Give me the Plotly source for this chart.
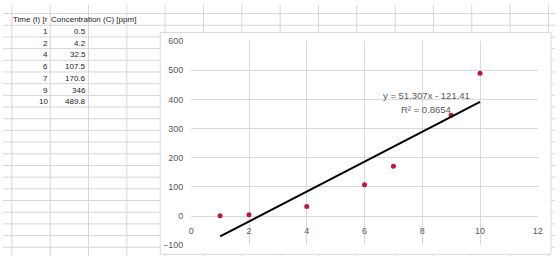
import numpy as np
import plotly.graph_objects as go

# ---- data ----
time_t = [1, 2, 4, 6, 7, 9, 10]
conc_ppm = [0.5, 4.2, 32.5, 107.5, 170.6, 346, 489.8]
header_a = "Time (t) [r"
header_b = "Concentration (C) [ppm]"
eq_text = "y = 51.307x - 121.41"
r2_text = "R² = 0.8654"
x_ticks = [0, 2, 4, 6, 8, 10, 12]
y_ticks = [-100, 0, 100, 200, 300, 400, 500, 600]

W, H = 560, 267
def px(x):
    return x / W
def py(y):
    return 1 - y / H

GRID = "#d6d6d6"
TXT = "#595959"

shapes = []
# spreadsheet grid: row lines
for k in range(21):
    yy = 8.9 + 12.14 * k
    shapes.append(dict(type="line", xref="paper", yref="paper", layer="below",
                       x0=0, x1=1, y0=py(yy), y1=py(yy),
                       line=dict(color=GRID, width=1)))
# spreadsheet grid: column lines
for k in range(15):
    xx = 9 + 38.88 * k
    shapes.append(dict(type="line", xref="paper", yref="paper", layer="below",
                       x0=px(xx), x1=px(xx), y0=py(0), y1=py(261),
                       line=dict(color=GRID, width=1)))
# chart area box
shapes.append(dict(type="rect", xref="paper", yref="paper", layer="below",
                   x0=px(159.5), x1=px(556), y0=py(28.5), y1=py(259),
                   fillcolor="white", line=dict(color="#d9d9d9", width=1)))

annotations = []
tfont = dict(family="Liberation Sans, Arial, sans-serif", size=8, color="#222222")
hdr_y = 15.5
annotations.append(dict(text=header_a, xref="paper", yref="paper", x=px(8), y=py(hdr_y),
                        xanchor="left", yanchor="middle", showarrow=False, font=tfont))
annotations.append(dict(text=header_b, xref="paper", yref="paper", x=px(47), y=py(hdr_y),
                        xanchor="left", yanchor="middle", showarrow=False, font=tfont))
for i, (t, c) in enumerate(zip(time_t, conc_ppm)):
    yy = 21 + 12.14 * (i + 1) - 5.5
    annotations.append(dict(text=f"{t:g}", xref="paper", yref="paper", x=px(47.5), y=py(yy),
                            xanchor="right", yanchor="middle", showarrow=False, font=tfont))
    annotations.append(dict(text=f"{c:g}", xref="paper", yref="paper", x=px(86.5), y=py(yy),
                            xanchor="right", yanchor="middle", showarrow=False, font=tfont))

# linear trendline (least squares fit of the data)
slope, intercept = np.polyfit(time_t, conc_ppm, 1)
tx = np.array([min(time_t), max(time_t)], dtype=float)
ty = slope * tx + intercept

efont = dict(family="Liberation Sans, Arial, sans-serif", size=9.5, color=TXT)
annotations.append(dict(text=eq_text, xref="x", yref="y", x=8.14, y=413,
                        xanchor="center", yanchor="middle", showarrow=False, font=efont))
annotations.append(dict(text=r2_text, xref="x", yref="y", x=8.13, y=366,
                        xanchor="center", yanchor="middle", showarrow=False, font=efont))

fig = go.Figure()
fig.add_trace(go.Scatter(x=time_t, y=conc_ppm, mode="markers",
                         marker=dict(size=5, color="#c0143c"), showlegend=False))
fig.add_trace(go.Scatter(x=tx, y=ty, mode="lines",
                         line=dict(color="black", width=2), showlegend=False))

afont = dict(family="Liberation Sans, Arial, sans-serif", size=9, color=TXT)
fig.update_layout(
    width=W, height=H,
    margin=dict(l=0, r=0, t=0, b=0),
    paper_bgcolor="white",
    plot_bgcolor="rgba(0,0,0,0)",
    shapes=shapes,
    annotations=annotations,
    xaxis=dict(domain=[191 / W, 542.5 / W], range=[0, 12], tickvals=x_ticks,
               showgrid=True, gridcolor="#d9d9d9", gridwidth=1, zeroline=False,
               showline=False, ticks="", anchor="free", position=py(219.2),
               tickfont=afont, ticklabelstandoff=8),
    yaxis=dict(domain=[1 - 249.5 / H, 1 - 37.5 / H], range=[-100, 600], tickvals=y_ticks,
               showgrid=True, gridcolor="#d9d9d9", gridwidth=1, zeroline=False,
               showline=False, ticks="", tickfont=afont, ticklabelstandoff=7),
)

fig.write_html("out.html")
